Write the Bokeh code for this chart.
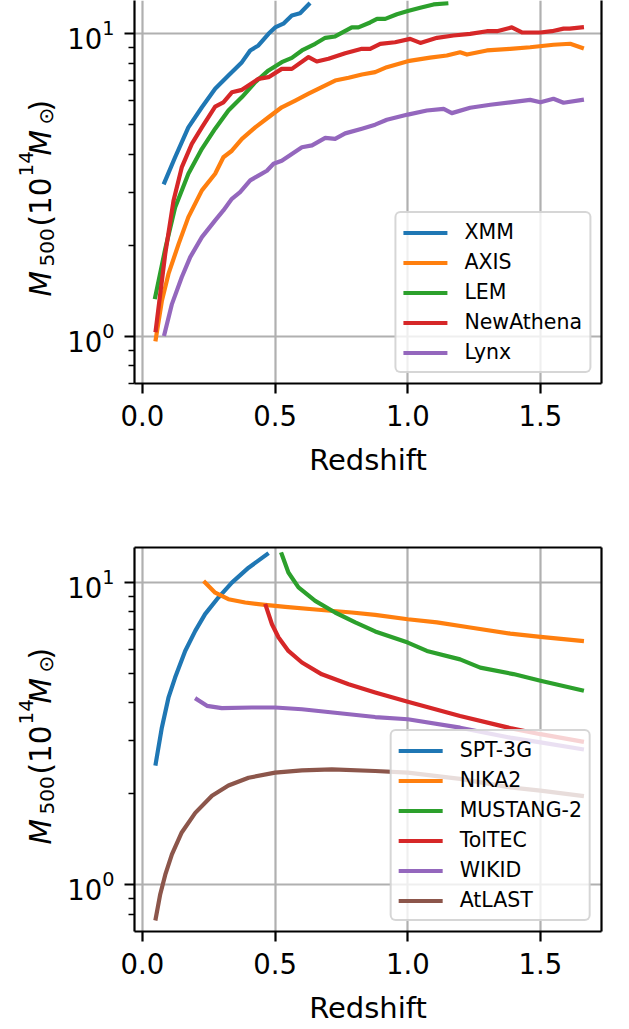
import math

from bokeh.plotting import figure
from bokeh.models import (Range1d, FixedTicker, LogTickFormatter, LinearAxis, LogAxis,
                          Legend, LegendItem)
from bokeh.core.properties import value
from bokeh.layouts import column, row
from bokeh.embed import file_html
from bokeh.resources import INLINE

# ---- X-ray instruments: limiting M500 (1e14 Msun) vs redshift ----
xmm_z = [0.083, 0.123, 0.173, 0.224, 0.274, 0.324, 0.375, 0.406, 0.437, 0.475, 0.500, 0.531, 0.563, 0.594, 0.626]
xmm_m = [3.23, 3.91, 4.91, 5.72, 6.58, 7.28, 8.06, 8.81, 9.15, 10.0, 10.5, 10.8, 11.5, 11.7, 12.5]

axis_z = [0.050, 0.073, 0.098, 0.136, 0.173, 0.224, 0.274, 0.305, 0.337, 0.375, 0.425, 0.475, 0.525, 0.576,
          0.626, 0.676, 0.726, 0.777, 0.827, 0.877, 0.921, 1.000, 1.084, 1.147, 1.197, 1.223, 1.298, 1.386,
          1.461, 1.549, 1.612, 1.656]
axis_m = [0.98, 1.31, 1.61, 2.02, 2.48, 3.04, 3.45, 3.91, 4.11, 4.50, 4.91, 5.30, 5.72, 6.02,
          6.34, 6.67, 7.01, 7.16, 7.34, 7.47, 7.76, 8.12, 8.34, 8.48, 8.69, 8.54, 8.81, 8.92,
          9.03, 9.20, 9.27, 8.99]

lem_z = [0.048, 0.086, 0.123, 0.173, 0.224, 0.274, 0.324, 0.375, 0.425, 0.475, 0.525, 0.563, 0.601, 0.651,
         0.689, 0.726, 0.789, 0.814, 0.858, 0.884, 0.915, 0.959, 1.000, 1.047, 1.097, 1.145]
lem_m = [1.35, 1.95, 2.67, 3.45, 4.17, 4.86, 5.58, 6.18, 6.92, 7.57, 8.06, 8.33, 8.81, 9.27,
         9.70, 9.80, 10.5, 10.5, 10.9, 11.2, 11.2, 11.6, 11.9, 12.2, 12.5, 12.6]

newathena_z = [0.050, 0.086, 0.117, 0.148, 0.186, 0.224, 0.274, 0.305, 0.337, 0.375, 0.437, 0.475, 0.525,
               0.563, 0.626, 0.657, 0.701, 0.764, 0.827, 0.858, 0.896, 0.952, 1.009, 1.047, 1.110, 1.172,
               1.235, 1.298, 1.336, 1.392, 1.430, 1.500, 1.543, 1.587, 1.610, 1.656]
newathena_m = [1.05, 1.88, 2.81, 3.62, 4.33, 4.91, 5.75, 5.94, 6.41, 6.53, 7.10, 7.19, 7.66,
               7.66, 8.38, 8.10, 8.27, 8.63, 8.92, 8.92, 9.26, 9.38, 9.62, 9.33, 9.70, 9.87,
               10.0, 10.2, 10.2, 10.5, 10.1, 10.1, 10.2, 10.4, 10.4, 10.5]

lynx_z = [0.083, 0.111, 0.148, 0.180, 0.224, 0.274, 0.305, 0.337, 0.368, 0.406, 0.437, 0.469, 0.494, 0.525,
          0.563, 0.601, 0.639, 0.689, 0.726, 0.764, 0.827, 0.877, 0.921, 1.000, 1.072, 1.135, 1.166, 1.235,
          1.311, 1.386, 1.461, 1.500, 1.549, 1.587, 1.656]
lynx_m = [1.02, 1.28, 1.57, 1.83, 2.13, 2.42, 2.61, 2.85, 3.00, 3.28, 3.40, 3.53, 3.72, 3.81,
          4.01, 4.22, 4.28, 4.53, 4.50, 4.69, 4.86, 5.01, 5.20, 5.41, 5.58, 5.65, 5.47, 5.70,
          5.83, 5.94, 6.05, 5.94, 6.10, 5.92, 6.05]

# ---- SZ instruments ----
spt3g_z = [0.050, 0.073, 0.098, 0.123, 0.161, 0.199, 0.236, 0.286, 0.337, 0.400, 0.469]
spt3g_m = [2.52, 3.31, 4.16, 4.85, 5.94, 6.92, 7.86, 8.92, 10.0, 11.2, 12.4]

nika2_z = [0.236, 0.274, 0.324, 0.387, 0.462, 0.538, 0.663, 0.789, 0.877, 1.000, 1.110, 1.235, 1.386, 1.500, 1.656]
nika2_m = [10.0, 9.26, 8.81, 8.59, 8.44, 8.31, 8.13, 7.96, 7.82, 7.56, 7.38, 7.10, 6.78, 6.61, 6.41]

mustang2_z = [0.525, 0.550, 0.588, 0.651, 0.726, 0.802, 0.877, 1.000, 1.072, 1.197, 1.273, 1.398, 1.500, 1.656]
mustang2_m = [12.4, 10.8, 9.64, 8.70, 7.96, 7.38, 6.89, 6.33, 5.94, 5.57, 5.23, 4.98, 4.73, 4.40]

toltec_z = [0.465, 0.488, 0.513, 0.550, 0.601, 0.676, 0.777, 0.877, 1.000, 1.197, 1.386, 1.500, 1.656]
toltec_m = [8.37, 7.28, 6.58, 5.94, 5.44, 4.97, 4.61, 4.33, 4.03, 3.62, 3.30, 3.15, 2.98]

wikid_z = [0.205, 0.243, 0.299, 0.412, 0.500, 0.601, 0.726, 0.877, 1.000, 1.197, 1.386, 1.500, 1.656]
wikid_m = [4.11, 3.91, 3.84, 3.86, 3.86, 3.81, 3.71, 3.59, 3.53, 3.31, 3.07, 2.96, 2.81]

atlast_z = [0.050, 0.067, 0.086, 0.111, 0.148, 0.199, 0.262, 0.324, 0.400, 0.500, 0.601, 0.714, 0.877,
            1.000, 1.197, 1.386, 1.500, 1.656]
atlast_m = [0.774, 0.931, 1.08, 1.26, 1.49, 1.73, 1.97, 2.13, 2.26, 2.35, 2.39, 2.41, 2.38,
            2.35, 2.24, 2.10, 2.05, 1.97]

xray_names = ["XMM", "AXIS", "LEM", "NewAthena", "Lynx"]
xray_series = [(xmm_z, xmm_m), (axis_z, axis_m), (lem_z, lem_m), (newathena_z, newathena_m), (lynx_z, lynx_m)]
sz_names = ["SPT-3G", "NIKA2", "MUSTANG-2", "TolTEC", "WIKID", "AtLAST"]
sz_series = [(spt3g_z, spt3g_m), (nika2_z, nika2_m), (mustang2_z, mustang2_m), (toltec_z, toltec_m),
             (wikid_z, wikid_m), (atlast_z, atlast_m)]

x_ticks = [0.0, 0.5, 1.0, 1.5]
x_tick_labels = {0.0: "0.0", 0.5: "0.5", 1.0: "1.0", 1.5: "1.5"}
y_major = [1, 10]
y_minor = [0.7, 0.8, 0.9, 2, 3, 4, 5, 6, 7, 8, 9]

COLORS = ["#1f77b4", "#ff7f0e", "#2ca02c", "#d62728", "#9467bd", "#8c564b"]
FONT = "DejaVu Sans"
BLACK = "black"
X0, X1 = -0.03, 1.73
TITLE_W = 62            # width of the strip holding the y-axis titles
PANEL_W = 629 - TITLE_W
BORDER_LEFT, FRAME_W = 134 - TITLE_W, 467


def style_axis(ax):
    ax.axis_line_color = BLACK
    ax.axis_line_width = 2.2
    ax.major_tick_line_color = BLACK
    ax.major_tick_line_width = 2.2
    ax.major_tick_out = 10
    ax.major_tick_in = 0
    ax.minor_tick_line_color = BLACK
    ax.minor_tick_line_width = 1.7
    ax.minor_tick_out = 6
    ax.minor_tick_in = 0
    ax.major_label_text_font = FONT
    ax.major_label_text_font_size = "27.5px"
    ax.major_label_text_color = BLACK
    ax.axis_label_text_font = FONT
    ax.axis_label_text_font_style = "normal"
    ax.axis_label_text_font_size = "29px"
    ax.axis_label_text_color = BLACK


def spine(kind, where, p):
    ax = kind(ticker=FixedTicker(ticks=[]))
    ax.axis_line_color = BLACK
    ax.axis_line_width = 2.2
    ax.major_tick_line_color = None
    ax.minor_tick_line_color = None
    ax.major_label_text_font_size = "0px"
    p.add_layout(ax, where)


def make_panel(height, top_px, frame_h, y_top_log, y_bot_log, names, series, closed_top):
    p = figure(width=PANEL_W, height=height,
               x_range=Range1d(X0, X1),
               y_range=Range1d(10 ** y_bot_log, 10 ** y_top_log),
               y_axis_type="log",
               output_backend="svg", toolbar_location=None,
               min_border_left=BORDER_LEFT, min_border_right=PANEL_W - BORDER_LEFT - FRAME_W,
               min_border_top=top_px, min_border_bottom=height - top_px - frame_h)
    p.outline_line_color = None
    p.background_fill_color = "white"
    p.border_fill_color = "white"

    xa = p.xaxis[0]
    style_axis(xa)
    xa.ticker = FixedTicker(ticks=x_ticks)
    xa.major_label_overrides = x_tick_labels
    xa.major_label_standoff = 11
    xa.axis_label = "Redshift"
    xa.axis_label_standoff = 14

    ya = p.yaxis[0]
    style_axis(ya)
    ya.ticker = FixedTicker(ticks=y_major, minor_ticks=y_minor)
    ya.formatter = LogTickFormatter()
    ya.major_label_standoff = 10

    spine(LogAxis, "right", p)
    if closed_top:
        spine(LinearAxis, "above", p)

    for g in (p.xgrid[0], p.ygrid[0]):
        g.grid_line_color = "#b0b0b0"
        g.grid_line_width = 2.2

    items = []
    for i, (name, (zs, ms)) in enumerate(zip(names, series)):
        r = p.line(zs, ms, line_color=COLORS[i], line_width=4.2,
                   line_cap="square", line_join="round")
        items.append(LegendItem(label=name, renderers=[r]))

    leg = Legend(items=items, location="bottom_right")
    leg.margin = 10
    leg.padding = 7
    leg.spacing = 6
    leg.glyph_width = 44
    leg.glyph_height = 23
    leg.label_height = 23
    leg.label_standoff = 17
    leg.label_text_font = FONT
    leg.label_text_font_size = "20.5px"
    leg.label_text_color = BLACK
    leg.background_fill_color = "white"
    leg.background_fill_alpha = 0.8
    leg.border_line_color = "#cccccc"
    leg.border_line_alpha = 0.8
    leg.border_line_width = 2
    if "border_radius" in Legend.properties():
        leg.border_radius = 6
    p.add_layout(leg, "center")
    return p


top = make_panel(500, 0, 383, 1.110, -0.155, xray_names, xray_series, closed_top=False)
bottom = make_panel(529, 47, 384, 1.116, -0.1545, sz_names, sz_series, closed_top=True)

# Strip on the left carrying the rotated title M_500(10^14 M_sun) of each panel,
# laid out in page pixels (y measured downward from the top of the page).
titles = figure(width=TITLE_W, height=1029, x_range=Range1d(0, TITLE_W), y_range=Range1d(0, 1029),
                output_backend="svg", toolbar_location=None,
                x_axis_location=None, y_axis_location=None,
                min_border_left=0, min_border_right=0, min_border_top=0, min_border_bottom=0)
titles.outline_line_color = None
titles.grid.visible = False
titles.background_fill_color = "white"
titles.border_fill_color = "white"

# (text, style, size, offset of the start from the lower end of the title, baseline column)
pieces = [
    ("M", "italic", 29.5, 0, 40),
    ("500", "normal", 20, 30, 46),
    ("(10", "normal", 29.5, 70, 40),
    ("14", "normal", 20, 120, 25),
    ("M", "italic", 29.5, 141, 40),
    ("\u2299", "normal", 20, 172, 45),
    (")", "normal", 29.5, 185, 40),
]
for title_bottom in (296, 296 + 548):
    for text, style, size, off, bx in pieces:
        titles.text(x=[bx], y=[1029 - (title_bottom - off)], text=[text], angle=math.pi / 2,
                    text_font=value(FONT), text_font_style=style, text_font_size=f"{size}px",
                    text_color=BLACK, text_align="left", text_baseline="alphabetic")

layout = row(titles, column(top, bottom, spacing=0), spacing=0)
open("out.html", "w").write(file_html(layout, INLINE))
